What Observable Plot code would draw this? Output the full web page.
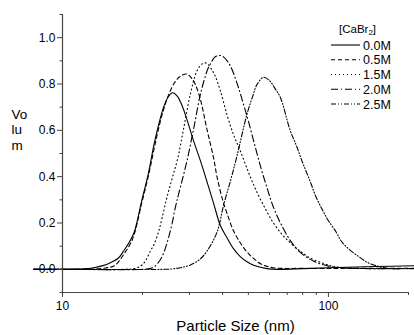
<!DOCTYPE html>
<html><head><meta charset="utf-8">
<script src="https://cdn.jsdelivr.net/npm/d3@7"></script>
<script src="https://cdn.jsdelivr.net/npm/@observablehq/plot@0.6"></script>
<style>
body{margin:0;background:#fff;}
svg text{font-family:"Liberation Sans",Arial,sans-serif;}
</style>
</head><body><div id="chart"></div>
<script>
// ---- data (particle size in nm, volume fraction) ----
const seriesNames = ["0.0M", "0.5M", "1.5M", "2.0M", "2.5M"];

const size00 = [7.8, 10, 12, 13.1, 14.2, 15.2, 16.2, 17, 18, 18.6, 19.2, 19.8, 21, 22.1, 23, 24, 25, 25.9, 27, 28.2, 29.4, 31, 33, 35, 37, 39.2, 41.6, 44, 46.6, 49.4, 53, 58.7, 65, 80, 100, 150, 215];
const vol00  = [0, 0, 0.002, 0.007, 0.016, 0.03, 0.048, 0.08, 0.125, 0.16, 0.22, 0.29, 0.41, 0.541, 0.625, 0.70, 0.745, 0.762, 0.748, 0.705, 0.645, 0.56, 0.469, 0.375, 0.285, 0.19, 0.135, 0.088, 0.055, 0.033, 0.015, 0.003, 0, 0.003, 0.007, 0.012, 0.016];

const size05 = [7.8, 10, 13, 14.5, 15.6, 16.3, 17, 18, 18.6, 19.8, 21, 22.1, 23, 24, 25, 26.2, 27.5, 29.2, 30.7, 32.5, 35, 37, 38.1, 40, 41.6, 44, 46.6, 49.4, 52.3, 56, 62, 80, 120, 215];
const vol05  = [0, 0, 0.001, 0.006, 0.014, 0.035, 0.065, 0.11, 0.15, 0.28, 0.40, 0.52, 0.61, 0.69, 0.75, 0.80, 0.83, 0.843, 0.823, 0.76, 0.60, 0.48, 0.40, 0.30, 0.24, 0.165, 0.115, 0.075, 0.047, 0.022, 0.007, 0.004, 0.004, 0.005];

const size15 = [7.8, 10, 17, 19, 19.95, 20.6, 21.4, 22.1, 23, 23.7, 24.7, 25.8, 27, 28.6, 30.3, 32, 33.5, 34.8, 36.5, 37.5, 39.2, 41.6, 44, 46.6, 50, 53.5, 58, 62.1, 67, 71.8, 78, 85, 95, 105, 130, 215];
const vol15  = [0, 0, 0, 0.006, 0.02, 0.04, 0.079, 0.108, 0.165, 0.223, 0.31, 0.39, 0.47, 0.613, 0.76, 0.855, 0.887, 0.89, 0.86, 0.835, 0.772, 0.665, 0.58, 0.512, 0.42, 0.34, 0.26, 0.2, 0.15, 0.115, 0.08, 0.05, 0.027, 0.012, 0.004, 0.004];

const size20 = [7.8, 10, 20, 21.4, 22.1, 23.3, 24, 25.5, 26.6, 27.4, 29.4, 31.2, 33, 35, 36, 37.3, 38.7, 40, 42.2, 44, 46, 48, 50, 53, 56, 59, 62, 66, 71.8, 78, 88, 100, 115, 150, 215];
const vol20  = [0, 0, 0, 0.004, 0.01, 0.04, 0.07, 0.17, 0.27, 0.33, 0.47, 0.613, 0.755, 0.858, 0.887, 0.915, 0.923, 0.92, 0.89, 0.845, 0.78, 0.71, 0.64, 0.53, 0.43, 0.345, 0.27, 0.2, 0.125, 0.075, 0.035, 0.014, 0.006, 0.003, 0.004];

const size25 = [7.8, 10, 24, 26, 28, 30.3, 33, 35, 38.1, 40.4, 43, 45.3, 49.4, 52, 54, 57, 60, 63, 65.9, 71.8, 76, 80, 85, 90, 95.6, 100, 107, 112, 120, 130, 140, 152, 165, 215];
const vol25  = [0, 0, 0, 0.002, 0.008, 0.019, 0.045, 0.08, 0.16, 0.28, 0.39, 0.49, 0.67, 0.75, 0.80, 0.829, 0.815, 0.78, 0.743, 0.60, 0.53, 0.46, 0.385, 0.31, 0.25, 0.21, 0.16, 0.12, 0.085, 0.055, 0.03, 0.015, 0.005, 0.003];

const yMajorTicks = [0, 0.2, 0.4, 0.6, 0.8, 1.0];
const yMinorTicks = [-0.1, 0.1, 0.3, 0.5, 0.7, 0.9, 1.1];
const xMajorTicks = [10, 100];
const xMinorTicks = [20, 30, 40, 50, 60, 70, 80, 90, 200];
const yLabelLines = ["Vo", "lu", "m"];
const xLabel = "Particle Size (nm)";
const legendTitle = "[CaBr";
const legendSub = "2";

const sizes = [size00, size05, size15, size20, size25];
const vols = [vol00, vol05, vol15, vol20, vol25];
const dashes = ["none", "4,3", "1,3", "7,3,1,3", "5,2,1,2,1,2"];

const rows = [];
seriesNames.forEach((s, i) => sizes[i].forEach((x, j) => rows.push({series: s, size: x, vol: vols[i][j]})));

const chart = Plot.plot({
  width: 414,
  height: 335,
  marginTop: 14,
  marginRight: 6,
  marginBottom: 43,
  marginLeft: 62,
  style: {background: "#fff", color: "#000", fontFamily: "Liberation Sans, Arial, sans-serif", fontSize: "12px"},
  x: {type: "log", domain: [10, 200]},
  y: {domain: [-0.1, 1.1]},
  marks: [
    ...seriesNames.map((s, i) => Plot.line(rows.filter(d => d.series === s), {
      x: "size", y: "vol", stroke: "#000", strokeWidth: 1.1,
      strokeDasharray: dashes[i], curve: "catmull-rom"
    })),
    Plot.ruleX([10], {stroke: "#444", strokeWidth: 1.2}),
    Plot.ruleY([-0.1], {stroke: "#444", strokeWidth: 1.2}),
    Plot.axisY(yMajorTicks, {tickSize: 5, tickPadding: 2, tickFormat: d3.format(".1f"), label: null, stroke: "#444", fontSize: 12}),
    Plot.axisY(yMinorTicks, {tickSize: 2.5, tickFormat: () => "", label: null, stroke: "#444"}),
    Plot.axisX(xMajorTicks, {tickSize: 5, tickPadding: 4, tickFormat: d => String(d), label: null, stroke: "#444", fontSize: 12}),
    Plot.axisX(xMinorTicks, {tickSize: 3, tickFormat: () => "", label: null, stroke: "#444"}),
    Plot.text([yLabelLines.join("\n")], {frameAnchor: "left", dx: -51, dy: -24, textAnchor: "start", lineHeight: 1.15, fontSize: 13.5}),
    Plot.text([xLabel], {frameAnchor: "bottom", dy: 38, lineAnchor: "bottom", fontSize: 15})
  ]
});

// legend
const svg = d3.select(chart);
const lg = svg.append("g").attr("font-size", 12.5).attr("text-anchor", "start");
lg.append("text").attr("x", 339).attr("y", 33).attr("font-size", 11.5)
  .call(t => { t.append("tspan").text(legendTitle);
               t.append("tspan").attr("font-size", 8).attr("dy", 2).text(legendSub);
               t.append("tspan").attr("dy", -2).text("]"); });
seriesNames.forEach((s, i) => {
  const y = 45 + i * 14.75;
  lg.append("line").attr("x1", 331).attr("x2", 360).attr("y1", y).attr("y2", y)
    .attr("stroke", "#000").attr("stroke-width", 1.1).attr("stroke-dasharray", dashes[i]);
  lg.append("text").attr("x", 363).attr("y", y).attr("dy", "0.36em").text(s);
});

document.getElementById("chart").append(chart);
</script>
</body></html>
